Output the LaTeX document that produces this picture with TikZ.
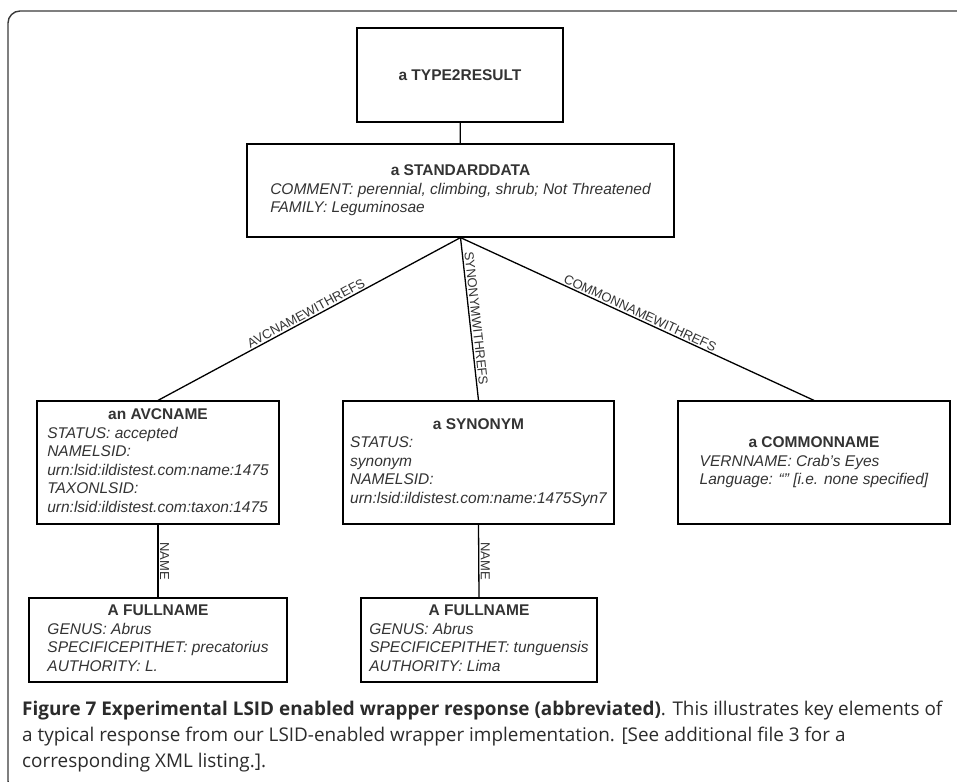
\documentclass[tikz,border=0pt]{standalone}
\usepackage{fontspec}
\setmainfont{Liberation Sans}
\newfontfamily\capfont{Open Sans}
\usepackage{array}
\definecolor{txtgray}{HTML}{333333}
\definecolor{capgray}{HTML}{2B2B2B}
\definecolor{framegray}{HTML}{3A3A3A}
\newcommand\boxtxt[2]{\begin{tabular}{@{}>{\itshape}l@{}}\multicolumn{1}{@{}c@{}}{\bfseries #1}\\#2\end{tabular}}
\begin{document}
\begin{tikzpicture}[x=1pt,y=-1pt,
  ebox/.style={draw=black, line width=1.2pt, rectangle, inner sep=0pt, text=txtgray,
    font=\fontsize{15.5}{18.5}\selectfont},
  link/.style={draw=black, line width=1.3pt},
  elab/.style={font=\fontsize{13}{15}\selectfont, text=txtgray, inner sep=1.5pt, sloped, above},
  vlab/.style={font=\fontsize{13}{15}\selectfont, text=txtgray, inner sep=1.5pt, rotate=-90, anchor=south}]
\useasboundingbox (0,0) rectangle (957,781);
\begin{scope}
  \clip (0,0) rectangle (957,781);
  \draw[framegray, line width=1.4pt, rounded corners=12pt] (8,11) rectangle (980,793);
\end{scope}

\node[ebox, minimum width=206pt, minimum height=94pt] (t2r) at (460,75) {\textbf{a TYPE2RESULT}};
\node[ebox, minimum width=427pt, minimum height=93pt] (sd) at (460.5,190.5)
  {\boxtxt{a STANDARDDATA}{COMMENT: perennial, climbing, shrub; Not Threatened\\FAMILY: Leguminosae}};
\node[ebox, minimum width=242pt, minimum height=123pt] (avc) at (158,462.5)
  {\boxtxt{an AVCNAME}{STATUS: accepted\\NAMELSID:\\urn:lsid:ildistest.com:name:1475\\TAXONLSID:\\urn:lsid:ildistest.com:taxon:1475}};
\node[ebox, minimum width=271pt, minimum height=123pt] (syn) at (478.5,462.5)
  {\boxtxt{a SYNONYM}{STATUS:\\synonym\\NAMELSID:\\urn:lsid:ildistest.com:name:1475Syn7}};
\node[ebox, minimum width=272pt, minimum height=123pt] (cn) at (814,462.5)
  {\boxtxt{a COMMONNAME}{VERNNAME: Crab’s Eyes\\Language: “” [i.e. none specified]}};
\node[ebox, minimum width=258pt, minimum height=84pt] (fn1) at (158,640)
  {\boxtxt{A FULLNAME}{GENUS: Abrus\\SPECIFICEPITHET: precatorius\\AUTHORITY: L.}};
\node[ebox, minimum width=236pt, minimum height=84pt] (fn2) at (479,640)
  {\boxtxt{A FULLNAME}{GENUS: Abrus\\SPECIFICEPITHET: tunguensis\\AUTHORITY: Lima}};

\draw[link] (t2r) -- (sd);
\draw[link] (sd.south) -- node[elab] {AVCNAMEWITHREFS} (avc.north);
\draw[link] (sd.south) -- node[elab] {SYNONYMWITHREFS} (syn.north);
\draw[link] (sd.south) -- node[elab] {COMMONNAMEWITHREFS} (cn.north);
\draw[link] (avc.south) -- node[vlab] {NAME} (fn1.north);
\draw[link] (syn.south) -- node[vlab] {NAME} (fn2.north);

\node[anchor=north west, align=left, inner sep=0pt, text=capgray,
  font=\capfont\fontsize{18.9}{26}\selectfont] (cap) at (22,701)
  {\textbf{Figure 7 Experimental LSID enabled wrapper response (abbreviated)}. This illustrates key elements of\\
   a typical response from our LSID-enabled wrapper implementation. [See additional file 3 for a\\
   corresponding XML listing.].};
\end{tikzpicture}
\end{document}
